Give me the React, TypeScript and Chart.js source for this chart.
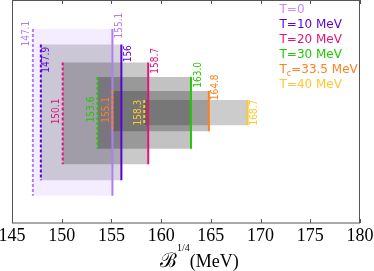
import React, { useEffect, useRef } from "react";
import { Chart, registerables } from "chart.js";

Chart.register(...registerables);

// ---- data ----
const seriesNames = ["T=0", "T=10 MeV", "T=20 MeV", "T=30 MeV", "Tc=33.5 MeV", "T=40 MeV"];
const legendMain = ["T", "T", "T", "T", "T", "T"];
const legendSub = ["", "", "", "", "c", ""];
const legendRest = ["=0", "=10 MeV", "=20 MeV", "=30 MeV", "=33.5 MeV", "=40 MeV"];
const lowerB = [147.1, 147.9, 150.1, 153.6, 155.1, 158.3];
const upperB = [155.1, 156.0, 158.7, 163.0, 164.8, 168.7];
const lowerLabels = ["147.1", "147.9", "150.1", "153.6", "155.1", "158.3"];
const upperLabels = ["155.1", "156", "158.7", "163.0", "164.8", "168.7"];
const boxTop = [0.87, 0.8, 0.72, 0.655, 0.592, 0.552];
const boxBottom = [0.122, 0.192, 0.263, 0.333, 0.411, 0.438];
const lowerLabelY = [0.849, 0.732, 0.5, 0.509, 0.507, 0.495];
const upperLabelY = [0.885, 0.759, 0.727, 0.664, 0.608, 0.495];
const lowerLabelSide = [-1, 1, -1, -1, -1, -1];
const xMin = 145;
const xMax = 180;
const xStep = 5;

// ---- style ----
const lineColors = ["#b07cff", "#5a00dc", "#e0157a", "#22c800", "#ff8020", "#ffc828"];
const legendColors = ["#c88cff", "#5a00dc", "#e0157a", "#22c800", "#ff8020", "#ffc828"];
const boxColors = [
  "rgba(180,140,255,0.16)",
  "rgba(0,0,0,0.16)",
  "rgba(0,0,0,0.21)",
  "rgba(0,0,0,0.24)",
  "rgba(0,0,0,0.24)",
  "rgba(0,0,0,0.2)",
];
const legendBaselines = [12.5, 27.5, 42.5, 57.5, 73, 88];

const decorPlugin = {
  id: "decor",
  afterDraw(chart: any) {
    const ctx = chart.ctx as CanvasRenderingContext2D;
    const ca = chart.chartArea;
    const xs = chart.scales.x;
    const ys = chart.scales.y;
    ctx.save();
    // frame
    ctx.strokeStyle = "#555";
    ctx.lineWidth = 1;
    ctx.strokeRect(ca.left + 0.5, ca.top + 0.5, ca.right - ca.left - 1, ca.bottom - ca.top - 0.5);
    // inward ticks top and bottom
    ctx.beginPath();
    for (const t of xs.ticks) {
      const px = Math.round(xs.getPixelForValue(t.value)) + 0.5;
      ctx.moveTo(px, ca.bottom);
      ctx.lineTo(px, ca.bottom - 4);
      ctx.moveTo(px, ca.top);
      ctx.lineTo(px, ca.top + 4);
    }
    ctx.stroke();

    // value labels (rotated)
    ctx.font = '10px "DejaVu Sans Condensed", "DejaVu Sans", sans-serif';
    ctx.textAlign = "center";
    ctx.textBaseline = "middle";
    const drawRot = (txt: string, x: number, y: number, color: string) => {
      ctx.save();
      ctx.translate(x, y);
      ctx.rotate(-Math.PI / 2);
      ctx.fillStyle = color;
      ctx.fillText(txt, 0, 0);
      ctx.restore();
    };
    for (let i = 0; i < lowerB.length; i++) {
      const lx = xs.getPixelForValue(lowerB[i]) + lowerLabelSide[i] * 6;
      drawRot(lowerLabels[i], lx, ys.getPixelForValue(lowerLabelY[i]), lineColors[i]);
      const ux = xs.getPixelForValue(upperB[i]) + 7;
      drawRot(upperLabels[i], ux, ys.getPixelForValue(upperLabelY[i]), lineColors[i]);
    }

    // legend
    ctx.textAlign = "left";
    ctx.textBaseline = "alphabetic";
    for (let i = 0; i < seriesNames.length; i++) {
      let x = 279.5;
      const y = legendBaselines[i];
      ctx.fillStyle = legendColors[i];
      ctx.font = '12px "DejaVu Sans", sans-serif';
      ctx.fillText(legendMain[i], x, y);
      x += ctx.measureText(legendMain[i]).width;
      if (legendSub[i]) {
        ctx.font = '8px "DejaVu Sans", sans-serif';
        ctx.fillText(legendSub[i], x, y + 3);
        x += ctx.measureText(legendSub[i]).width;
        ctx.font = '12px "DejaVu Sans", sans-serif';
      }
      ctx.fillText(legendRest[i], x, y);
    }

    // axis title
    ctx.fillStyle = "#000";
    let tx = 160;
    ctx.font = '20px "DejaVu Serif", serif';
    ctx.fillText("\u212C", tx, 267);
    tx += ctx.measureText("\u212C").width;
    ctx.font = '10px "Liberation Serif", serif';
    ctx.fillText("1/4", tx, 250.5);
    tx += ctx.measureText("1/4").width;
    ctx.font = '18px "Liberation Serif", serif';
    ctx.fillText("(MeV)", tx, 267);
    ctx.restore();
  },
};

export default function App() {
  const ref = useRef<HTMLCanvasElement | null>(null);
  useEffect(() => {
    document.body.style.margin = "0";
    const canvas = ref.current!;
    const datasets: any[] = [];
    for (let i = 0; i < lowerB.length; i++) {
      datasets.push({
        label: seriesNames[i] + " box",
        data: [
          { x: lowerB[i], y: boxTop[i] },
          { x: upperB[i], y: boxTop[i] },
        ],
        borderColor: "rgba(0,0,0,0)",
        borderWidth: 0,
        pointRadius: 0,
        backgroundColor: boxColors[i],
        fill: { value: boxBottom[i] },
        order: 100 - i,
      });
    }
    for (let i = 0; i < lowerB.length; i++) {
      datasets.push({
        label: seriesNames[i] + " lower",
        data: [
          { x: lowerB[i], y: boxTop[i] },
          { x: lowerB[i], y: boxBottom[i] },
        ],
        borderColor: lineColors[i],
        borderWidth: 2,
        borderDash: [3, 2],
        pointRadius: 0,
        fill: false,
        order: 50 - 2 * i,
      });
      datasets.push({
        label: seriesNames[i] + " upper",
        data: [
          { x: upperB[i], y: boxTop[i] },
          { x: upperB[i], y: boxBottom[i] },
        ],
        borderColor: lineColors[i],
        borderWidth: 2,
        pointRadius: 0,
        fill: false,
        order: 49 - 2 * i,
      });
    }
    const chart = new Chart(canvas, {
      type: "line",
      data: { datasets },
      options: {
        responsive: false,
        animation: false,
        devicePixelRatio: 1,
        layout: { padding: { left: 12, right: 14, top: 0, bottom: 0 } },
        plugins: { legend: { display: false }, tooltip: { enabled: false } },
        scales: {
          x: {
            type: "linear",
            min: xMin,
            max: xMax,
            grid: { display: false, drawTicks: false },
            border: { display: false },
            ticks: {
              stepSize: xStep,
              autoSkip: false,
              maxRotation: 0,
              padding: 2,
              color: "#000",
              font: { family: '"Liberation Serif", serif', size: 18 },
            },
            afterFit: (s: any) => {
              s.height = 48;
              s.paddingLeft = 0;
              s.paddingRight = 0;
            },
          },
          y: { type: "linear", min: 0, max: 1, display: false },
        },
      },
      plugins: [decorPlugin],
    });
    return () => chart.destroy();
  }, []);
  return <canvas ref={ref} width={374} height={271} style={{ display: "block", width: 374, height: 271 }} />;
}
